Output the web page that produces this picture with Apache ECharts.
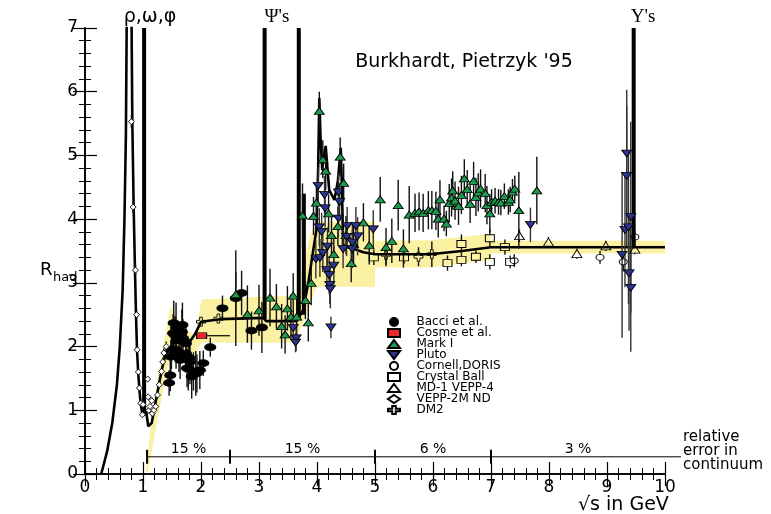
<!DOCTYPE html>
<html><head><meta charset="utf-8">
<script src="https://cdn.jsdelivr.net/npm/echarts/dist/echarts.min.js"></script>
<style>html,body{margin:0;padding:0;background:#fff}#c{width:771px;height:514px}</style>
</head><body><div id="c"></div>
<script>
// ---------- data ----------
const xTicks = [0,1,2,3,4,5,6,7,8,9,10];
const yTicks = [0,1,2,3,4,5,6,7];

// main theory/fit curve [sqrt(s), R]
const curve = [[0.28,0],[0.38,0.35],[0.47,0.8],[0.55,1.4],[0.60,2.0],[0.65,2.9],[0.68,4.0],[0.705,5.3],[0.72,7.2],[0.76,30],[0.80,7.4],[0.816,5.52],[0.839,4.19],[0.862,3.19],[0.879,2.5],[0.897,1.94],[0.92,1.55],[0.95,1.2],[0.98,0.98],[1.0,0.92],[1.03,1.0],[1.06,0.95],[1.09,0.75],[1.15,0.8],[1.23,1.19],[1.32,1.62],[1.38,1.85],[1.45,1.97],[1.58,2.1],[1.7,2.12],[1.81,2.08],[1.9,2.2],[2.0,2.39],[2.33,2.43],[3.08,2.45],[3.12,2.40],[3.65,2.40],[3.70,2.48],[3.76,2.57],[3.85,3.0],[3.95,3.6],[3.99,3.83],[4.02,4.8],[4.04,5.9],[4.06,5.3],[4.09,4.77],[4.12,5.0],[4.15,5.15],[4.18,4.8],[4.21,4.46],[4.30,4.3],[4.36,4.6],[4.41,5.12],[4.43,4.5],[4.45,3.6],[4.55,3.55],[4.68,3.52],[4.80,3.48],[5.0,3.45],[5.95,3.45],[6.5,3.5],[7.0,3.56],[10,3.56]];

// narrow resonances: mass, from R, to R
const resMass = [1.019, 3.097, 3.686, 3.773, 9.46];
const resFrom = [0.92, 2.43, 2.42, 2.50, 3.56];
const resTo   = [7, 7, 7, 4.4, 7];

// relative error band (upper and lower edges)
const bandUpper = [[1.05,0.05],[1.15,0.9],[1.30,1.75],[1.47,2.63],[1.69,2.31],[1.90,2.16],[2.01,2.74],[3.07,2.78],[3.65,2.80],[3.76,3.25],[3.88,3.75],[4.0,3.96],[5.0,3.96],[5.0,3.66],[5.95,3.67],[7.0,3.77],[7.0,3.66],[10,3.66]];
const bandLower = [[1.08,0.0],[1.20,0.6],[1.35,1.35],[1.47,1.85],[1.90,1.85],[2.0,2.06],[3.60,2.06],[3.80,2.45],[3.99,2.94],[5.0,2.94],[5.0,3.24],[5.95,3.24],[7.0,3.36],[7.0,3.46],[10,3.46]];

// experiments: [sqrt(s), R, error]
const bacci = [[1.45,1.43,0.2],[1.47,1.55,0.25],[1.48,1.84,0.25],[1.49,1.95,0.3],[1.52,2.21,0.3],[1.53,2.37,0.35],[1.55,2.18,0.3],[1.57,2.29,0.4],[1.58,2.10,0.3],[1.57,1.95,0.3],[1.62,1.90,0.3],[1.64,1.79,0.3],[1.67,2.23,0.35],[1.68,2.34,0.35],[1.69,2.13,0.3],[1.74,2.05,0.3],[1.74,1.89,0.3],[1.76,1.66,0.3],[1.78,1.66,0.35],[1.80,1.82,0.3],[1.81,1.76,0.35],[1.84,1.53,0.35],[1.87,1.61,0.3],[1.91,1.58,0.35],[1.93,1.58,0.3],[1.98,1.63,0.3],[2.04,1.74,0.2],[2.16,1.99,0.15],[2.37,2.60,0.2],[2.60,2.76,0.75],[2.70,2.84,0.35],[2.87,2.25,0.3],[3.05,2.30,0.4]];
// Cosme: [sqrt(s), R, range low, range high]
const cosme = [[2.01,2.17,1.98,2.5]];
const markI = [[2.60,2.82,0.35],[2.80,2.51,0.45],[3.00,2.57,0.4],[3.19,2.77,0.45],[3.30,2.63,0.35],[3.39,2.32,0.35],[3.45,2.19,0.3],[3.49,2.60,0.35],[3.55,2.47,0.35],[3.59,2.80,0.35],[3.65,2.47,0.3],[3.80,2.73,0.3],[3.85,2.38,0.3],[3.90,3.00,0.35],[3.75,4.06,0.5],[3.94,4.05,0.3],[3.99,4.26,0.3],[4.04,5.70,0.3],[4.10,4.94,0.3],[4.15,4.76,0.3],[4.20,4.09,0.3],[4.25,3.75,0.3],[4.29,3.45,0.3],[4.36,3.89,0.3],[4.40,4.98,0.3],[4.46,4.57,0.3],[4.50,3.75,0.3],[4.59,3.31,0.3],[4.63,3.61,0.3],[4.80,3.95,0.3],[4.90,3.59,0.3],[5.09,4.31,0.35],[5.19,3.56,0.3],[5.29,3.66,0.35],[5.40,4.22,0.4],[5.49,3.54,0.3],[5.59,4.07,0.45],[5.69,4.10,0.3],[5.76,4.12,0.3],[5.83,4.10,0.3],[5.92,4.14,0.3],[5.98,4.14,0.3],[6.05,4.13,0.3],[6.09,4.01,0.3],[6.12,4.31,0.3],[6.19,4.01,0.2],[6.23,3.93,0.2],[6.28,4.25,0.3],[6.32,4.34,0.3],[6.34,4.45,0.3],[6.38,4.29,0.3],[6.44,4.21,0.3],[6.49,4.38,0.3],[6.54,4.64,0.3],[6.59,4.47,0.3],[6.64,4.24,0.3],[6.70,4.60,0.3],[6.74,4.35,0.3],[6.78,4.42,0.3],[6.82,4.48,0.3],[6.90,4.41,0.3],[6.93,4.22,0.3],[6.98,4.09,0.3],[7.01,4.27,0.2],[7.07,4.29,0.2],[7.13,4.27,0.2],[7.17,4.26,0.2],[7.23,4.36,0.2],[7.30,4.27,0.2],[7.33,4.31,0.2],[7.37,4.43,0.2],[7.41,4.48,0.2],[7.48,4.14,0.6],[7.79,4.45,0.53]];
const pluto = [[3.59,2.29,0.2],[3.64,2.13,0.2],[3.63,2.06,0.15],[3.98,3.37,0.3],[4.02,4.52,0.3],[4.04,3.87,0.3],[4.05,3.39,0.3],[4.08,3.80,0.3],[4.10,3.47,0.3],[4.13,4.38,0.3],[4.14,4.17,0.3],[4.17,3.20,0.3],[4.18,3.57,0.3],[4.21,3.12,0.3],[4.22,2.97,0.3],[4.23,2.90,0.3],[4.24,2.30,0.17],[4.29,3.27,0.3],[4.37,4.42,0.3],[4.39,4.27,0.3],[4.37,4.01,0.3],[4.45,3.53,0.3],[4.51,3.72,0.3],[4.52,3.89,0.3],[4.61,3.53,0.3],[4.61,3.63,0.3],[4.67,3.89,0.3],[4.70,3.73,0.3],[4.97,3.84,0.3],[7.68,3.91,0.27],[9.26,3.44,1.3],[9.31,3.83,0.9],[9.34,5.03,1.0],[9.34,4.68,1.1],[9.37,3.87,1.2],[9.38,3.15,0.9],[9.41,4.03,1.5],[9.41,2.92,1.0]];
const cornell = [[7.40,3.35,0.1],[8.88,3.40,0.1],[9.28,3.33,0.15],[9.48,3.72,0.1]];
const crystal = [[4.98,3.40,0.12],[5.50,3.40,0.1],[6.25,3.31,0.12],[6.49,3.36,0.1],[6.49,3.61,0.15],[6.74,3.41,0.1],[6.98,3.70,0.15],[6.98,3.33,0.12],[7.24,3.56,0.12],[7.33,3.33,0.1]];
const md1 = [[7.49,3.74,0.1],[7.99,3.64,0.08],[8.48,3.46,0.08],[8.98,3.58,0.08],[9.48,3.53,0.08]];
const vepp = [[0.80,5.53,0.1],[0.83,4.19,0.1],[0.87,3.20,0.08],[0.89,2.50,0.06],[0.90,1.95,0.05],[0.92,1.60,0.05],[0.94,1.35,0.05],[0.96,1.11,0.05],[0.99,0.93,0.05],[1.0,1.09,0.05],[1.08,1.49,0.05],[1.09,1.21,0.05],[1.10,1.0,0.05],[1.12,1.06,0.05],[1.15,1.15,0.05],[1.16,0.95,0.05],[1.19,1.00,0.05],[1.22,1.06,0.05],[1.25,1.24,0.06],[1.28,1.40,0.06],[1.32,1.61,0.06],[1.34,1.76,0.07],[1.36,1.90,0.07],[1.40,2.00,0.08]];
const dm2 = [[2.00,2.39,0.05],[2.30,2.44,0.06],[5.19,3.44,0.15],[5.75,3.41,0.15],[5.98,3.45,0.2]];

// relative error in continuum
const errSegX = [1.07, 2.5, 5.0, 7.0, 10.0];
const errLabels = ['15 %', '15 %', '6 %', '3 %'];

// ---------- chart ----------
const FONT = '"DejaVu Sans", "Liberation Sans", sans-serif';
const chart = echarts.init(document.getElementById('c'));

function errSeries(name, data, gap, color) {
  return {
    type: 'custom', name: name + '_err', z: 4, clip: true, silent: true,
    data: data.map(d => [d[0], d[1], d[2]]),
    renderItem(params, api) {
      const x = api.value(0), y = api.value(1), e = api.value(2);
      const p = api.coord([x, y]);
      const hi = api.coord([x, y + e]);
      const lo = api.coord([x, Math.max(0, y - e)]);
      const st = {stroke: color || '#111', lineWidth: 1.4};
      return {type: 'group', children: [
        {type: 'line', shape: {x1: p[0], y1: hi[1], x2: p[0], y2: Math.max(hi[1], p[1] - gap)}, style: st},
        {type: 'line', shape: {x1: p[0], y1: p[1] + gap, x2: p[0], y2: Math.max(lo[1], p[1] + gap)}, style: st}
      ]};
    }
  };
}
function scat(name, data, symbol, size, color) {
  return {
    type: 'scatter', name: name, z: 6, clip: true,
    data: data.map(d => [d[0], d[1]]),
    symbol: symbol, symbolSize: size,
    itemStyle: {color: color, borderColor: '#000', borderWidth: 0.9, opacity: 1}
  };
}

const downTri = 'path://M0,0L10,0L5,8Z';
const plusPath = 'path://M3.5,0H6.5V3.5H10V6.5H6.5V10H3.5V6.5H0V3.5H3.5Z';
const OPEN = 'rgba(255,255,255,0)';

const axisCommon = {
  type: 'value', min: 0, splitLine: {show: false},
  axisLine: {show: true, lineStyle: {color: '#000', width: 1.6}},
  axisTick: {show: true, inside: true, length: 12, lineStyle: {color: '#000', width: 1.2}},
  minorTick: {show: true, splitNumber: 5, length: 6, lineStyle: {color: '#000', width: 1}},
  axisLabel: {color: '#000', fontFamily: FONT, fontSize: 17}
};

const option = {
  backgroundColor: '#fff',
  animation: false,
  grid: {left: 85, right: 106, top: 28, bottom: 40, containLabel: false},
  xAxis: [
    Object.assign({}, axisCommon, {max: 10, interval: 1, position: 'bottom', axisLabel: Object.assign({}, axisCommon.axisLabel, {margin: 5})}),
    Object.assign({}, axisCommon, {max: 10, interval: 1, position: 'top', axisLabel: {show: false}})
  ],
  yAxis: [
    Object.assign({}, axisCommon, {max: 7, interval: 1, position: 'left', axisLabel: Object.assign({}, axisCommon.axisLabel, {margin: 7})}),
    Object.assign({}, axisCommon, {max: 7, interval: 1, position: 'right', axisLabel: {show: false}})
  ],
  legend: {
    orient: 'vertical', left: 382, top: 311, itemWidth: 12, itemHeight: 8, itemGap: -1,
    symbolKeepAspect: false, selectedMode: false,
    formatter: name => '   ' + name,
    textStyle: {fontFamily: FONT, fontSize: 12, color: '#000', lineHeight: 11},
    data: ['Bacci et al.', 'Cosme et al.', 'Mark I', 'Pluto', 'Cornell,DORIS', 'Crystal Ball', 'MD-1 VEPP-4', 'VEPP-2M ND', 'DM2']
  },
  graphic: [
    {type: 'text', x: 464, y: 62, style: {text: "Burkhardt, Pietrzyk '95", font: '19px ' + FONT, fill: '#000', align: 'center', verticalAlign: 'middle'}},
    {type: 'text', x: 150, y: 17, style: {text: 'ρ,ω,φ', font: '19px ' + FONT, fill: '#000', align: 'center', verticalAlign: 'middle'}},
    {type: 'text', x: 277, y: 17, style: {text: "Ψ's", font: '19px "Liberation Serif", serif', fill: '#000', align: 'center', verticalAlign: 'middle'}},
    {type: 'text', x: 643, y: 17, style: {text: "Υ's", font: '19px "Liberation Serif", serif', fill: '#000', align: 'center', verticalAlign: 'middle'}},
    {type: 'text', x: 40, y: 270, style: {text: 'R', font: '18px ' + FONT, fill: '#000', verticalAlign: 'middle'}},
    {type: 'text', x: 53, y: 278, style: {text: 'had', font: '13px ' + FONT, fill: '#000', verticalAlign: 'middle'}},
    {type: 'text', x: 578, y: 505, style: {text: '√s in GeV', font: '19px ' + FONT, fill: '#000', verticalAlign: 'middle'}},
    {type: 'text', x: 683, y: 430, style: {text: 'relative\nerror in\ncontinuum', font: '15px ' + FONT, lineHeight: 14, fill: '#000'}}
  ],
  series: [
    // error band
    {
      type: 'custom', name: 'band', z: 1, silent: true, clip: true,
      data: [bandUpper[0]],
      renderItem(params, api) {
        const pts = bandUpper.map(p => api.coord(p)).concat(bandLower.slice().reverse().map(p => api.coord(p)));
        return {type: 'polygon', shape: {points: pts}, style: {fill: '#fbf1a2'}};
      }
    },
    // curve
    {type: 'line', name: 'curve', z: 3, data: curve, symbol: 'none', clip: true,
     lineStyle: {color: '#000', width: 2.6}},
    // narrow resonances
    {
      type: 'custom', name: 'res', z: 3, clip: true, silent: true,
      data: resMass.map((m, i) => [m, resFrom[i], resTo[i]]),
      renderItem(params, api) {
        const a = api.coord([api.value(0), api.value(1)]);
        const b = api.coord([api.value(0), api.value(2)]);
        return {type: 'line', shape: {x1: a[0], y1: a[1], x2: b[0], y2: b[1]}, style: {stroke: '#000', lineWidth: 4}};
      }
    },
    // relative error row
    {
      type: 'custom', name: 'errrow', z: 5, clip: false, silent: true,
      data: errLabels.map((l, i) => [errSegX[i], errSegX[i + 1], i]),
      renderItem(params, api) {
        const i = api.value(2);
        const a = api.coord([api.value(0), 0.27]);
        const b = api.coord([api.value(1), 0.27]);
        const ext = (i === errLabels.length - 1) ? 16 : 0;
        return {type: 'group', children: [
          {type: 'line', shape: {x1: a[0], y1: a[1], x2: b[0] + ext, y2: b[1]}, style: {stroke: '#000', lineWidth: 1}},
          {type: 'line', shape: {x1: a[0], y1: a[1] - 7, x2: a[0], y2: a[1] + 7}, style: {stroke: '#000', lineWidth: 2}},
          {type: 'text', x: (a[0] + b[0]) / 2, y: a[1] - 7, style: {text: errLabels[i], font: '14px ' + FONT, fill: '#000', align: 'center', verticalAlign: 'middle'}}
        ]};
      }
    },
    // error bars
    errSeries('Bacci', bacci, 0),
    errSeries('Mark I', markI, 0),
    errSeries('Pluto', pluto, 0, '#333'),
    errSeries('Cornell', cornell, 3),
    errSeries('Crystal', crystal, 3.5),
    errSeries('MD1', md1, 4),
    errSeries('VEPP', vepp, 3),
    errSeries('DM2', dm2, 4.5),
    {
      type: 'custom', name: 'cosme_err', z: 4, clip: true, silent: true,
      data: cosme,
      renderItem(params, api) {
        const a = api.coord([api.value(2), api.value(1)]);
        const b = api.coord([api.value(3), api.value(1)]);
        return {type: 'line', shape: {x1: a[0], y1: a[1], x2: b[0], y2: b[1]}, style: {stroke: '#000', lineWidth: 1.2}};
      }
    },
    // markers
    scat('Bacci et al.', bacci, 'circle', [11, 7], '#000'),
    scat('Cosme et al.', cosme, 'rect', [10, 6], '#e8262c'),
    scat('Mark I', markI, 'triangle', [10, 7], '#1e9a4e'),
    scat('Pluto', pluto, downTri, [10, 7], '#2b3590'),
    scat('Cornell,DORIS', cornell, 'circle', [8, 6], OPEN),
    scat('Crystal Ball', crystal, 'rect', [9, 7], OPEN),
    scat('MD-1 VEPP-4', md1, 'triangle', [10, 8], OPEN),
    scat('VEPP-2M ND', vepp, 'diamond', [6, 6], '#fff'),
    scat('DM2', dm2, plusPath, [9, 9], OPEN)
  ]
};
chart.setOption(option);
</script>
</body></html>
